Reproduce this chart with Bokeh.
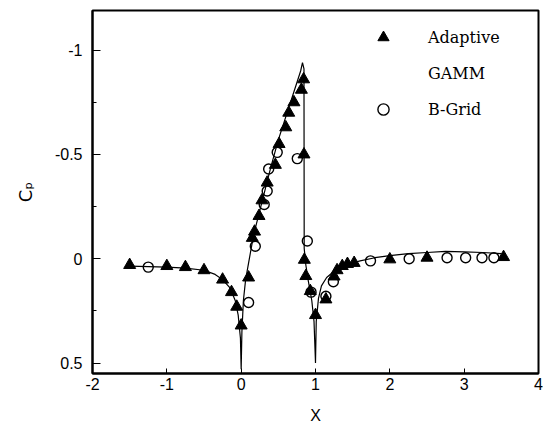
from bokeh.plotting import figure
from bokeh.models import Range1d, FixedTicker, Legend, LegendItem, ColumnDataSource
from bokeh.embed import file_html
from bokeh.resources import INLINE

# ---- data ----
adaptive_x = [-1.50, -1.00, -0.75, -0.50, -0.25, -0.13, -0.06, 0.00, 0.10, 0.15, 0.18,
              0.24, 0.28, 0.35, 0.46, 0.51, 0.60, 0.64, 0.71, 0.81, 0.84, 0.845,
              0.85, 0.87, 0.93, 1.00, 1.14, 1.25, 1.29, 1.36, 1.43, 1.52, 2.00, 2.50, 3.53]
adaptive_cp = [0.03, 0.035, 0.04, 0.055, 0.10, 0.16, 0.23, 0.32, 0.09, -0.10, -0.13,
               -0.205, -0.28, -0.365, -0.45, -0.55, -0.63, -0.70, -0.75, -0.81, -0.86, -0.50,
               0.005, 0.083, 0.155, 0.27, 0.195, 0.085, 0.055, 0.035, 0.025, 0.02, 0.003, -0.005, -0.008]

bgrid_x = [-1.25, 0.10, 0.19, 0.31, 0.35, 0.37, 0.485, 0.755, 0.89, 0.94, 1.14, 1.24,
           1.74, 2.26, 2.77, 3.02, 3.24, 3.40]
bgrid_cp = [0.04, 0.21, -0.06, -0.26, -0.325, -0.43, -0.51, -0.48, -0.085, 0.16, 0.18, 0.11,
            0.01, 0.0, -0.005, -0.005, -0.005, -0.005]

gamm_x = [-1.50, -1.00, -0.75, -0.50, -0.35, -0.25, -0.15, -0.08, -0.04, -0.01, 0.00,
          0.01, 0.03, 0.06, 0.10, 0.15, 0.20, 0.30, 0.40, 0.50, 0.60, 0.70, 0.80, 0.825,
          0.845, 0.848, 0.87, 0.90, 0.95, 0.98, 1.00, 1.01, 1.04, 1.08, 1.15, 1.25, 1.40,
          1.60, 1.80, 2.00, 2.25, 2.50, 2.75, 3.00, 3.25, 3.50]
gamm_cp = [0.035, 0.04, 0.045, 0.055, 0.075, 0.10, 0.14, 0.20, 0.27, 0.38, 0.53,
           0.35, 0.20, 0.10, 0.02, -0.08, -0.16, -0.30, -0.44, -0.57, -0.68, -0.79, -0.90, -0.94,
           -0.91, -0.05, 0.03, 0.10, 0.20, 0.30, 0.50, 0.30, 0.19, 0.13, 0.09, 0.06, 0.03,
           0.01, -0.005, -0.015, -0.025, -0.03, -0.035, -0.033, -0.03, -0.025]

x_ticks = [-2, -1, 0, 1, 2, 3, 4]
x_tick_labels = ["-2", "-1", "0", "1", "2", "3", "4"]
y_ticks = [-1.0, -0.5, 0.0, 0.5]
y_minor = [-0.75, -0.25, 0.25]
y_tick_labels = ["-1", "-0.5", "0", "0.5"]

legend_labels = ["Adaptive", "GAMM", "B-Grid"]

# ---- figure ----
p = figure(width=543, height=428, output_backend="svg", toolbar_location=None,
           x_range=Range1d(-2, 4), y_range=Range1d(0.55, -1.19),
           min_border_left=92, min_border_right=5, min_border_top=10, min_border_bottom=55)
p.background_fill_color = "white"
p.border_fill_color = "white"
p.outline_line_color = "black"
p.outline_line_width = 2
p.xgrid.visible = False
p.ygrid.visible = False

p.xaxis.ticker = FixedTicker(ticks=x_ticks)
p.yaxis.ticker = FixedTicker(ticks=y_ticks, minor_ticks=y_minor)
p.xaxis.major_label_overrides = dict(zip(x_ticks, x_tick_labels))
p.yaxis.major_label_overrides = dict(zip(y_ticks, y_tick_labels))

for ax in (p.xaxis, p.yaxis):
    ax.axis_line_width = 2
    ax.axis_line_color = "black"
    ax.major_tick_out = 0
    ax.minor_tick_out = 0
    ax.major_tick_line_color = "black"
    ax.major_label_text_font = "Liberation Sans"
    ax.major_label_text_font_size = "16px"
    ax.major_label_text_color = "black"
    ax.axis_label_text_font = "Liberation Sans"
    ax.axis_label_text_font_size = "16px"
    ax.axis_label_text_font_style = "normal"
    ax.axis_label_text_color = "black"

p.xaxis.major_tick_in = 5
p.xaxis.minor_tick_line_color = None
p.xaxis.major_label_standoff = 4
p.xaxis.axis_label = "X"
p.xaxis.axis_label_standoff = 14

p.yaxis.major_tick_in = 8
p.yaxis.minor_tick_in = 4
p.yaxis.minor_tick_line_color = "black"
p.yaxis.major_label_standoff = 10
p.yaxis.axis_label = "Cₚ"
p.yaxis.axis_label_text_font = "DejaVu Sans"
p.yaxis.axis_label_text_font_size = "18px"
p.yaxis.axis_label_standoff = 16

src_g = ColumnDataSource(dict(x=gamm_x, y=gamm_cp))
src_a = ColumnDataSource(dict(x=adaptive_x, y=adaptive_cp))
src_b = ColumnDataSource(dict(x=bgrid_x, y=bgrid_cp))

p.line("x", "y", source=src_g, line_color="black", line_width=1.2)
r_b = p.scatter("x", "y", source=src_b, marker="circle", size=10,
                fill_color=None, line_color="black", line_width=1.4)
r_a = p.scatter("x", "y", source=src_a, marker="triangle", size=12,
                fill_color="black", line_color="black")
r_dummy = p.line(x=[], y=[], line_alpha=0)

legend = Legend(items=[LegendItem(label=legend_labels[0], renderers=[r_a]),
                       LegendItem(label=legend_labels[1], renderers=[r_dummy]),
                       LegendItem(label=legend_labels[2], renderers=[r_b])],
                location=(277, 246), padding=0, margin=0, spacing=0,
                glyph_width=28, glyph_height=36, label_height=36,
                label_standoff=31, border_line_color=None, background_fill_alpha=0,
                label_text_font="DejaVu Serif", label_text_font_size="16px",
                label_text_color="black")
p.add_layout(legend, "center")

open("out.html", "w").write(file_html(p, INLINE))
